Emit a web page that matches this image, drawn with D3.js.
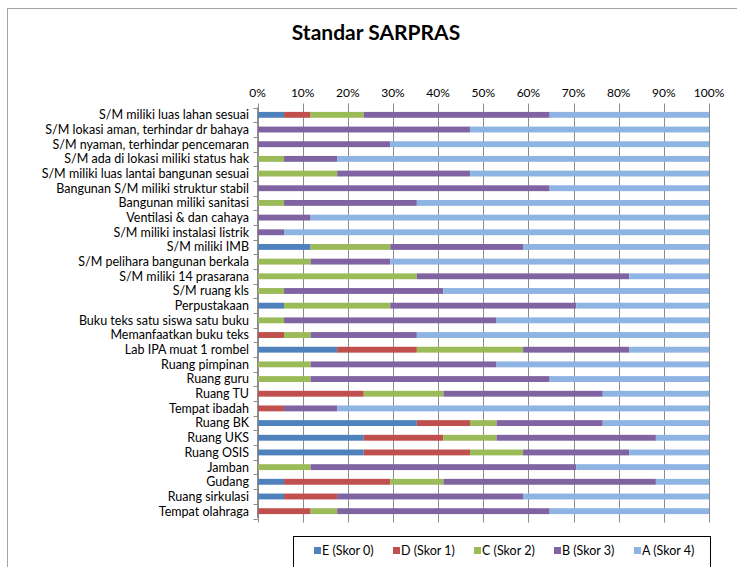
<!DOCTYPE html>
<html>
<head>
<meta charset="utf-8">
<script src="https://cdn.jsdelivr.net/npm/d3@7"></script>
<style>
  body { margin: 0; background: #fff; }
  svg text { font-family: Lato, "Open Sans", sans-serif; fill: #000; }
</style>
</head>
<body>
<svg id="chart" width="737" height="567"></svg>
<script>
// jumlah sekolah per skor (dari 17 sekolah)
const categories = [
  "S/M miliki luas lahan sesuai",
  "S/M lokasi aman, terhindar dr bahaya",
  "S/M nyaman, terhindar pencemaran",
  "S/M ada di lokasi miliki status hak",
  "S/M miliki luas lantai bangunan sesuai",
  "Bangunan S/M miliki struktur stabil",
  "Bangunan miliki sanitasi",
  "Ventilasi & dan cahaya",
  "S/M miliki instalasi listrik",
  "S/M miliki IMB",
  "S/M pelihara bangunan berkala",
  "S/M miliki 14 prasarana",
  "S/M ruang kls",
  "Perpustakaan",
  "Buku teks satu siswa satu buku",
  "Memanfaatkan buku teks",
  "Lab IPA muat 1 rombel",
  "Ruang pimpinan",
  "Ruang guru",
  "Ruang TU",
  "Tempat ibadah",
  "Ruang BK",
  "Ruang UKS",
  "Ruang OSIS",
  "Jamban",
  "Gudang",
  "Ruang sirkulasi",
  "Tempat olahraga"
];
const skorE = [1,0,0,0,0,0,0,0,0,2,0,0,0,1,0,0,3,0,0,0,0,6,4,4,0,1,1,0];
const skorD = [1,0,0,0,0,0,0,0,0,0,0,0,0,0,0,1,3,0,0,4,1,2,3,4,0,4,2,2];
const skorC = [2,0,0,1,3,0,1,0,0,3,2,6,1,4,1,1,4,2,2,3,0,1,2,2,2,2,0,1];
const skorB = [7,8,5,2,5,11,5,2,1,5,3,8,6,7,8,4,4,7,9,6,2,4,6,4,10,8,7,8];
const skorA = [6,9,12,14,9,6,11,15,16,7,12,3,10,5,8,11,3,8,6,4,14,4,2,3,5,2,7,6];

const seriesKeys = ["E", "D", "C", "B", "A"];
const seriesLabels = ["E (Skor 0)", "D (Skor 1)", "C (Skor 2)", "B (Skor 3)", "A (Skor 4)"];
const seriesColors = ["#4f81bd", "#c0504d", "#9bbb59", "#8064a2", "#8db4e2"];
const xTicks = [0, 0.1, 0.2, 0.3, 0.4, 0.5, 0.6, 0.7, 0.8, 0.9, 1];

const rows = categories.map((c, i) => ({
  cat: c, E: skorE[i], D: skorD[i], C: skorC[i], B: skorB[i], A: skorA[i]
}));

const svg = d3.select("#chart");

const plotLeft = 257.5, plotRight = 709, plotTop = 107.5, plotBottom = 518.5;

// bingkai luar
svg.append("rect")
  .attr("x", 7.5).attr("y", 8.5)
  .attr("width", 760).attr("height", 600)
  .attr("fill", "none").attr("stroke", "#a6a6a6");

svg.append("text")
  .attr("x", 376).attr("y", 40)
  .attr("text-anchor", "middle")
  .attr("font-size", 21).attr("font-weight", "bold")
  .text("Standar SARPRAS");

const x = d3.scaleLinear().domain([0, 1]).range([plotLeft, plotRight]);
const y = d3.scaleBand().domain(categories).range([plotTop, plotBottom]).paddingInner(0.6).paddingOuter(0.3);

// garis grid
svg.append("g")
  .selectAll("line")
  .data(xTicks)
  .enter()
  .append("line")
  .attr("x1", d => Math.round(x(d)) + 0.5)
  .attr("x2", d => Math.round(x(d)) + 0.5)
  .attr("y1", plotTop - 4)
  .attr("y2", plotBottom + 4)
  .attr("stroke", "#8c8c8c")
  .attr("stroke-width", 1);

svg.append("g")
  .selectAll("text")
  .data(xTicks)
  .enter()
  .append("text")
  .attr("x", d => x(d))
  .attr("y", 97)
  .attr("text-anchor", "middle")
  .attr("font-size", 12)
  .text(d => d3.format(".0%")(d));

const stacked = d3.stack().keys(seriesKeys).offset(d3.stackOffsetExpand)(rows);

svg.append("g")
  .selectAll("g")
  .data(stacked)
  .enter()
  .append("g")
  .attr("fill", (d, i) => seriesColors[i])
  .selectAll("rect")
  .data(d => d)
  .enter()
  .append("rect")
  .attr("x", d => x(d[0]))
  .attr("y", d => y(d.data.cat))
  .attr("width", d => x(d[1]) - x(d[0]))
  .attr("height", y.bandwidth());

// sumbu kategori
const step = (plotBottom - plotTop) / categories.length;
const ax = svg.append("g").attr("stroke", "#8c8c8c");
ax.append("line")
  .attr("x1", plotLeft).attr("x2", plotLeft)
  .attr("y1", plotTop).attr("y2", plotBottom);
ax.selectAll(".tk")
  .data(d3.range(categories.length + 1))
  .enter()
  .append("line")
  .attr("class", "tk")
  .attr("x1", plotLeft - 4).attr("x2", plotLeft)
  .attr("y1", d => Math.round(plotTop + d * step) + 0.5)
  .attr("y2", d => Math.round(plotTop + d * step) + 0.5);

svg.append("g")
  .selectAll("text")
  .data(categories)
  .enter()
  .append("text")
  .attr("x", 249)
  .attr("y", d => y(d) + y.bandwidth() / 2)
  .attr("dy", "0.35em")
  .attr("text-anchor", "end")
  .attr("font-size", 12.5)
  .text(d => d);

// legenda
svg.append("rect")
  .attr("x", 293.5).attr("y", 536.5)
  .attr("width", 417).attr("height", 50)
  .attr("fill", "none").attr("stroke", "#000");

const legendX = [314, 393, 474, 554, 634];
const lg = svg.append("g")
  .selectAll("g")
  .data(seriesLabels)
  .enter()
  .append("g")
  .attr("transform", (d, i) => `translate(${legendX[i]},551)`);
lg.append("rect")
  .attr("x", 0).attr("y", -4)
  .attr("width", 7).attr("height", 7)
  .attr("fill", (d, i) => seriesColors[i]);
lg.append("text")
  .attr("x", 8).attr("y", 0)
  .attr("dy", "0.35em")
  .attr("font-size", 12.5)
  .text(d => d);
</script>
</body>
</html>
